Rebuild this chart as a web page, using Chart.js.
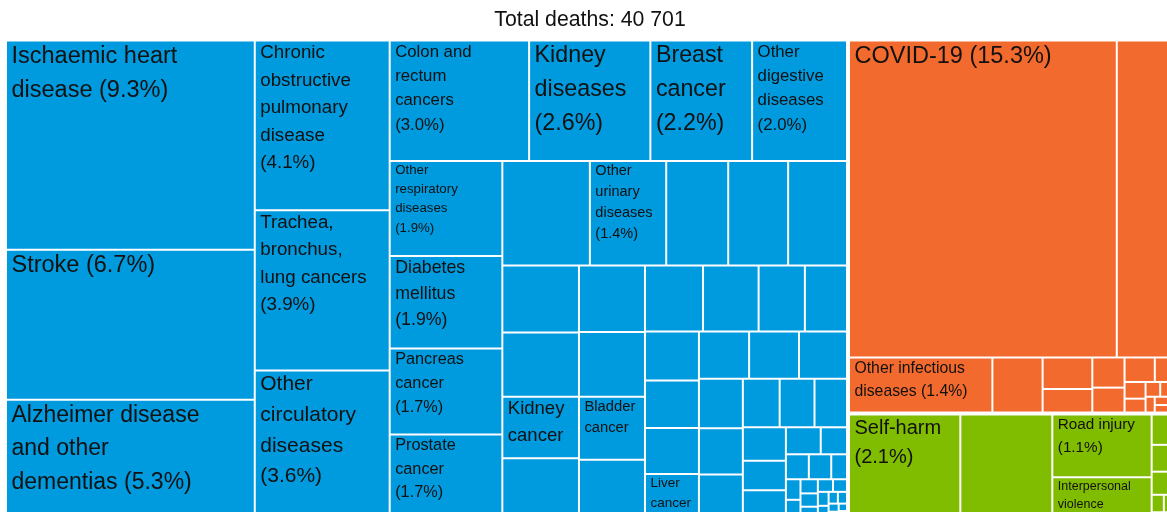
<!DOCTYPE html>
<html>
<head>
<meta charset="utf-8">
<title>Total deaths treemap</title>
<script src="https://cdn.jsdelivr.net/npm/chart.js@4.4.1/dist/chart.umd.min.js"></script>
<style>
  html, body { margin: 0; padding: 0; background: #fff; overflow: hidden; }
  #wrap { width: 1180px; height: 525px; }
</style>
</head>
<body>
<div id="wrap"><canvas id="chart" width="1180" height="525"></canvas></div>
<script>
// Noncommunicable diseases (blue). Empty name = cell without a label.
const ncdCauses = [
    'Ischaemic heart disease', 'Stroke', 'Alzheimer disease and other dementias',
    'Chronic obstructive pulmonary disease', 'Trachea, bronchus, lung cancers', 'Other circulatory diseases',
    'Colon and rectum cancers', 'Kidney diseases', 'Breast cancer', 'Other digestive diseases',
    'Other respiratory diseases', 'Diabetes mellitus', 'Pancreas cancer', 'Prostate cancer',
    '', 'Other urinary diseases', '', '', '',
    '', '', 'Kidney cancer', '',
    '', '', 'Bladder cancer', '',
    '', '', '', '',
    '', '', '', 'Liver cancer',
    '', '', '',
    '', '', '',
    '', '', '',
    '', '', '',
    '', '',
    '', '', '',
    '', '', '', '', '', '', '', '', '', '', '', '', '', '', '', ''
];
const ncdDeaths = [
    3785, 2727, 2157,
    1669, 1587, 1465,
    1221, 1062, 891, 822,
    785, 765, 710, 695,
    672, 586, 476, 460, 444,
    376, 361, 346, 339,
    322, 313, 305, 285,
    281, 269, 224, 199,
    194, 188, 182, 176,
    174, 173, 163,
    159, 149, 142,
    131, 124, 112,
    106, 93, 89,
    69, 50,
    42, 41, 27,
    22, 20, 18, 17, 15, 14, 12, 11, 10, 8, 7, 6, 5, 4, 2, 2
];

// Communicable, maternal, perinatal and nutritional conditions (orange)
const cmpnCauses = [
    'COVID-19', '', 'Other infectious diseases', '', '', '', '', '',
    '', '', '', '', '', '', '', '', '', ''
];
const cmpnDeaths = [
    6240, 1315, 570, 201, 116, 83, 72, 57,
    55, 33, 26, 20, 16, 14, 10, 9, 7, 4
];

// Injuries (green)
const injuryCauses = ['Self-harm', '', 'Road injury', 'Interpersonal violence', '', '', '', '', '', ''];
const injuryDeaths = [853, 711, 461, 307, 47, 43, 37, 16, 12, 10];

const groupNames = ['Noncommunicable diseases', 'Communicable, maternal, perinatal and nutritional conditions', 'Injuries'];
const groupColors = ['#009ADE', '#F26A2D', '#80BC00'];

const FONT = '"Liberation Sans", Arial, Helvetica, sans-serif';

function sum(arr) {
    return arr.reduce((a, b) => a + b, 0);
}

const totalDeaths = sum(ncdDeaths) + sum(cmpnDeaths) + sum(injuryDeaths);

// Squarified tiling: a strip keeps growing while its first (largest) tile gets closer to a square
function squarify(values, box) {
    const tiles = [];
    let { x0, y0, x1, y1 } = box;
    let rest = sum(values);
    let i = 0;
    while (i < values.length) {
        const dx = x1 - x0, dy = y1 - y0;
        const column = dx >= dy;
        const side = column ? dy : dx;
        const depth = column ? dx : dy;
        const first = values[i];
        const ratio = s => {
            const t = depth * s / rest, len = side * first / s;
            return Math.max(t / len, len / t);
        };
        let s = first, j = i + 1, best = ratio(s);
        while (j < values.length) {
            const r = ratio(s + values[j]);
            if (r > best) break;
            best = r;
            s += values[j];
            j++;
        }
        const t = j >= values.length ? depth : depth * s / rest;
        let pos = column ? y0 : x0;
        for (let k = i; k < j; k++) {
            const len = side * values[k] / s;
            tiles.push(column
                ? { x0: x0, y0: pos, x1: x0 + t, y1: pos + len }
                : { x0: pos, y0: y0, x1: pos + len, y1: y0 + t });
            pos += len;
        }
        if (column) x0 += t; else y0 += t;
        rest -= s;
        i = j;
    }
    return tiles;
}

// white gap only on the inner sides of a rectangle
function shrink(r, bounds, gap) {
    const e = 0.01;
    return {
        x0: r.x0 > bounds.x0 + e ? r.x0 + gap : r.x0,
        y0: r.y0 > bounds.y0 + e ? r.y0 + gap : r.y0,
        x1: r.x1 < bounds.x1 - e ? r.x1 - gap : r.x1,
        y1: r.y1 < bounds.y1 - e ? r.y1 - gap : r.y1
    };
}

function wrapWords(ctx, words, maxW) {
    const lines = [];
    let line = '';
    words.forEach(w => {
        const test = line ? line + ' ' + w : w;
        if (line && ctx.measureText(test).width > maxW) {
            lines.push(line);
            line = w;
        } else {
            line = test;
        }
    });
    if (line) lines.push(line);
    return lines;
}

// biggest font size whose wrapped text fits in the cell
function fitLabel(ctx, text, w, h) {
    const words = text.split(' ');
    const maxW = 0.8 * w;
    for (let size = 23.5; size >= 6; size -= 0.25) {
        ctx.font = `${size}px ${FONT}`;
        const lines = wrapWords(ctx, words, maxW);
        const widest = Math.max(...lines.map(l => ctx.measureText(l).width));
        const blockH = ((lines.length - 1) * 1.46 + 1) * size;
        if (widest <= maxW && blockH <= 0.77 * h) {
            return { size, lines };
        }
    }
    return null;
}

class TreemapController extends Chart.DatasetController {
    update(mode) {
        const meta = this._cachedMeta;
        this.updateElements(meta.data, 0, meta.data.length, mode);
    }

    updateElements(rects, start, count, mode) {
        const meta = this._cachedMeta;
        const xs = meta.xScale, ys = meta.yScale;
        const frame = {
            x0: xs.getPixelForValue(0), x1: xs.getPixelForValue(1),
            y0: ys.getPixelForValue(1), y1: ys.getPixelForValue(0)
        };
        const groups = squarify(this.chart.data.datasets.map(d => sum(d.data)), frame);
        const group = shrink(groups[this.index], frame, 2);
        const cells = squarify(this.getDataset().data, group).map(c => shrink(c, group, 1));
        this._cells = cells;
        for (let i = start; i < start + count; i++) {
            const c = cells[i];
            this.updateElement(rects[i], i, {
                x: (c.x0 + c.x1) / 2,
                y: c.y0,
                base: c.y1,
                width: c.x1 - c.x0,
                height: c.y1 - c.y0,
                horizontal: false,
                borderSkipped: {},
                inflateAmount: 0,
                options: this.resolveDataElementOptions(i, mode)
            }, mode);
        }
    }

    draw() {
        super.draw();
        const ctx = this.chart.ctx;
        const ds = this.getDataset();
        ctx.save();
        ctx.fillStyle = '#111';
        ctx.textAlign = 'left';
        ctx.textBaseline = 'alphabetic';
        ds.data.forEach((v, i) => {
            const name = ds.causes[i];
            if (!name) return;
            const pct = v / totalDeaths * 100;
            const text = pct >= 1 ? `${name} (${pct.toFixed(1)}%)` : name;
            const c = this._cells[i];
            const fit = fitLabel(ctx, text, c.x1 - c.x0, c.y1 - c.y0);
            if (!fit) return;
            ctx.font = `${fit.size}px ${FONT}`;
            fit.lines.forEach((line, k) => {
                ctx.fillText(line, c.x0 + 4.5, c.y0 + 0.9 * fit.size + k * 1.46 * fit.size);
            });
        });
        ctx.restore();
    }
}
TreemapController.id = 'treemap';
TreemapController.defaults = { datasetElementType: false, dataElementType: 'bar' };
Chart.register(TreemapController);

const cellStyle = { borderWidth: 0, borderSkipped: false, borderRadius: 0, inflateAmount: 0 };

new Chart(document.getElementById('chart'), {
    type: 'treemap',
    data: {
        datasets: [
            { label: groupNames[0], data: ncdDeaths, causes: ncdCauses, backgroundColor: groupColors[0], ...cellStyle },
            { label: groupNames[1], data: cmpnDeaths, causes: cmpnCauses, backgroundColor: groupColors[1], ...cellStyle },
            { label: groupNames[2], data: injuryDeaths, causes: injuryCauses, backgroundColor: groupColors[2], ...cellStyle }
        ]
    },
    options: {
        responsive: false,
        animation: false,
        events: [],
        layout: { padding: { left: 7, right: 7, top: 0, bottom: 6.5 } },
        scales: {
            x: { type: 'linear', display: false, min: 0, max: 1 },
            y: { type: 'linear', display: false, min: 0, max: 1 }
        },
        plugins: {
            legend: { display: false },
            tooltip: { enabled: false },
            title: {
                display: true,
                text: 'Total deaths: ' + totalDeaths.toLocaleString('en-US').replace(/,/g, ' '),
                color: '#111',
                font: { family: FONT, size: 21.25, weight: 'normal', lineHeight: 1.2 },
                padding: { top: 7, bottom: 9 }
            }
        }
    }
});
</script>
</body>
</html>
